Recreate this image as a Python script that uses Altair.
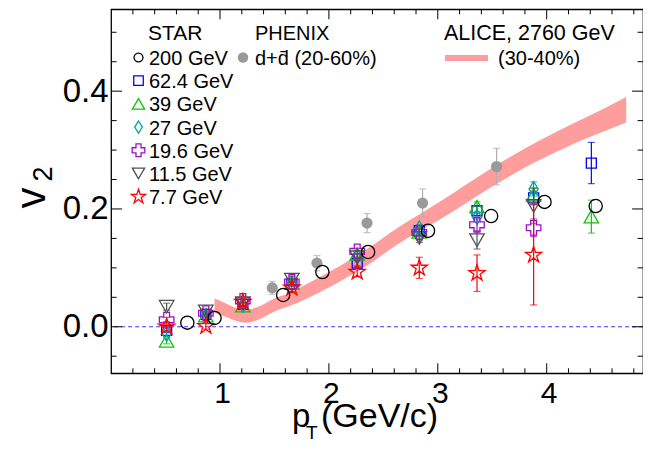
import altair as alt
import pandas as pd

FONT = "Liberation Sans"

# ---------------- data ----------------
# ALICE 2760 GeV (30-40%) band
alice_pt = [0.95, 1.05, 1.15, 1.25, 1.35, 1.5, 1.65, 1.8, 1.95, 2.1, 2.25, 2.4, 2.55,
            2.7, 2.85, 3.0, 3.15, 3.3, 3.5, 3.7, 3.9, 4.1, 4.3, 4.5, 4.73]
alice_lo = [0.024, 0.017, 0.010, 0.007, 0.012, 0.026, 0.036, 0.048, 0.062, 0.077, 0.093,
            0.110, 0.130, 0.148, 0.165, 0.180, 0.197, 0.215, 0.238, 0.260, 0.280, 0.298,
            0.315, 0.330, 0.347]
alice_hi = [0.048, 0.040, 0.032, 0.029, 0.034, 0.048, 0.058, 0.073, 0.088, 0.103, 0.120,
            0.138, 0.158, 0.176, 0.193, 0.210, 0.228, 0.246, 0.270, 0.292, 0.313, 0.332,
            0.350, 0.368, 0.390]

# PHENIX d+dbar (20-60%)
phenix_pt = [1.48, 1.89, 2.35, 2.86, 3.54]
phenix_v2 = [0.066, 0.108, 0.176, 0.210, 0.272]
phenix_err = [0.011, 0.013, 0.016, 0.024, 0.031]

# STAR 200 GeV
s200_pt = [0.70, 0.95, 1.58, 1.94, 2.36, 2.91, 3.49, 3.98, 4.45]
s200_v2 = [0.007, 0.015, 0.054, 0.093, 0.127, 0.163, 0.188, 0.212, 0.205]

# STAR BES energies (common pT bins)
star_pt = [0.51, 0.87, 1.21, 1.66, 2.26, 2.83, 3.36, 3.88, 4.41]
v2_624 = [-0.006, 0.021, 0.038, 0.073, 0.108, 0.163, 0.197, 0.219, 0.278]
err_624 = [0.004, 0.003, 0.003, 0.004, 0.005, 0.006, 0.008, 0.011, 0.035]
v2_39 = [-0.024, 0.019, 0.036, 0.074, 0.124, 0.161, 0.204, 0.224, 0.187]
err_39 = [0.005, 0.003, 0.003, 0.004, 0.005, 0.006, 0.008, 0.012, 0.028]
v2_27 = [-0.012, 0.018, 0.037, 0.073, 0.119, 0.167, 0.186, 0.234]
err_27 = [0.004, 0.003, 0.003, 0.004, 0.005, 0.006, 0.008, 0.012]
v2_196 = [0.012, 0.023, 0.044, 0.076, 0.128, 0.160, 0.173, 0.168]
err_196 = [0.004, 0.003, 0.003, 0.004, 0.005, 0.006, 0.010, 0.015]
v2_115 = [0.034, 0.026, 0.040, 0.080, 0.118, 0.151, 0.147, 0.205]
err_115 = [0.006, 0.004, 0.004, 0.005, 0.006, 0.008, 0.015, 0.030]
v2_77 = [0.000, 0.001, 0.042, 0.066, 0.093, 0.100, 0.091, 0.122]
err_77 = [0.008, 0.005, 0.005, 0.006, 0.008, 0.018, 0.031, 0.085]

labels = ["200 GeV", "62.4 GeV", "39 GeV", "27 GeV", "19.6 GeV", "11.5 GeV", "7.7 GeV"]

x_major = [1, 2, 3, 4]
x_minor = [0.2, 0.4, 0.6, 0.8, 1.2, 1.4, 1.6, 1.8, 2.2, 2.4, 2.6, 2.8, 3.2, 3.4, 3.6,
           3.8, 4.2, 4.4, 4.6, 4.8]
y_major = [0.0, 0.2, 0.4]
y_minor = [-0.05, 0.05, 0.1, 0.15, 0.25, 0.3, 0.35, 0.45, 0.5]

# ---------------- styling ----------------
OX, OY = 111.1, 9.3
W, H = 532, 364
PINK = "#ff9c9c"
DIAMOND = "M0,-1L0.62,0L0,1L-0.62,0Z"
STAR = ("M0,-1L0.225,-0.309L0.951,-0.309L0.363,0.118L0.588,0.809L0,0.382"
        "L-0.588,0.809L-0.363,0.118L-0.951,-0.309L-0.225,-0.309Z")

xs = alt.Scale(domain=[0, W / 108.9], nice=False, zero=False)
ys = alt.Scale(domain=[-0.079, 0.539], nice=False, zero=False)
xaxis = alt.Axis(values=x_major, format="d", labelFontSize=30, labelFont=FONT,
                 labelPadding=5, labelOffset=2, ticks=False, domain=False, grid=False,
                 title="", labelColor="black")
yaxis = alt.Axis(values=y_major, format=".1f", labelFontSize=33, labelFont=FONT,
                 labelPadding=3, ticks=False, domain=False, grid=False, title="",
                 labelColor="black")


def X(f):
    return alt.X(f"{f}:Q", scale=xs, axis=xaxis)


def Y(f):
    return alt.Y(f"{f}:Q", scale=ys, axis=yaxis)


ONE = pd.DataFrame({"k": [0]})
layers = []

# ALICE band
df_alice = pd.DataFrame({"pt": alice_pt, "lo": alice_lo, "hi": alice_hi})
layers.append(alt.Chart(df_alice).mark_area(color=PINK, opacity=1, interpolate="monotone")
              .encode(x=X("pt"), y=Y("lo"), y2="hi:Q"))

# zero line
layers.append(alt.Chart(pd.DataFrame({"v2": [0.0]}))
              .mark_rule(color="#3a3aff", strokeWidth=1.2, strokeDash=[4, 3])
              .encode(y=Y("v2")))

# inward ticks
dxM = pd.DataFrame({"t": x_major})
dxm = pd.DataFrame({"t": x_minor})
dyM = pd.DataFrame({"t": y_major})
dym = pd.DataFrame({"t": y_minor})
for d, L in [(dxM, 10), (dxm, 5)]:
    layers.append(alt.Chart(d).mark_rule(color="black", strokeWidth=1)
                  .encode(x=X("t"), y=alt.value(H), y2=alt.value(H - L)))
    layers.append(alt.Chart(d).mark_rule(color="black", strokeWidth=1)
                  .encode(x=X("t"), y=alt.value(0), y2=alt.value(L)))
for d, L in [(dyM, 11), (dym, 5.5)]:
    layers.append(alt.Chart(d).mark_rule(color="black", strokeWidth=1)
                  .encode(y=Y("t"), x=alt.value(0), x2=alt.value(L)))
    layers.append(alt.Chart(d).mark_rule(color="black", strokeWidth=1)
                  .encode(y=Y("t"), x=alt.value(W), x2=alt.value(W - L)))


def series(pts, vals, errs, color, shape, size, filled=False, barcolor=None):
    out = []
    bc = barcolor or color
    if errs is not None:
        df = pd.DataFrame({"pt": pts, "v2": vals,
                           "lo": [v - e for v, e in zip(vals, errs)],
                           "hi": [v + e for v, e in zip(vals, errs)]})
        out.append(alt.Chart(df).mark_rule(color=bc, strokeWidth=1.2)
                   .encode(x=X("pt"), y=Y("lo"), y2="hi:Q"))
        caps = pd.DataFrame({"pt": list(pts) * 2,
                             "c": list(df["lo"]) + list(df["hi"])})
        out.append(alt.Chart(caps).mark_tick(color=bc, orient="horizontal", size=7,
                                             thickness=1.2)
                   .encode(x=X("pt"), y=Y("c")))
    df2 = pd.DataFrame({"pt": pts, "v2": vals})
    if filled:
        m = alt.Chart(df2).mark_point(shape=shape, size=size, filled=True, color=color,
                                      opacity=1)
    else:
        m = alt.Chart(df2).mark_point(shape=shape, size=size, filled=False, color=color,
                                      strokeWidth=1.3, opacity=1)
    out.append(m.encode(x=X("pt"), y=Y("v2")))
    return out


styles = [
    ("#000000", "circle", 175, 80),
    ("#0000ff", "square", 100, 90),
    ("#11c011", "triangle-up", 210, 150),
    ("#00a3a3", DIAMOND, 220, 150),
    ("#a010c0", "cross", 210, 160),
    ("#505050", "triangle-down", 210, 150),
    ("#ff0000", STAR, 290, 220),
]

# PHENIX
layers += series(phenix_pt, phenix_v2, phenix_err, "#9a9a9a", "circle", 125, filled=True,
                 barcolor="#b0b0b0")
# STAR BES
bes = [(star_pt, v2_624, err_624), (star_pt, v2_39, err_39), (star_pt[:8], v2_27, err_27),
       (star_pt[:8], v2_196, err_196), (star_pt[:8], v2_115, err_115),
       (star_pt[:8], v2_77, err_77)]
for (p, v, e), st in zip(bes, styles[1:]):
    layers += series(p, v, e, st[0], st[1], st[2])
# STAR 200 GeV
layers += series(s200_pt, s200_v2, None, styles[0][0], styles[0][1], styles[0][2])

# ---------------- text & legend ----------------


def txt(s, x, y, size=20, align="left", angle=0, baseline="alphabetic"):
    return (alt.Chart(ONE)
            .mark_text(text=s, align=align, baseline=baseline, fontSize=size, font=FONT,
                       color="black", angle=angle)
            .encode(x=alt.value(x - OX), y=alt.value(y - OY)))


def sym(shape, color, size, x, y, filled=False):
    if filled:
        mk = alt.Chart(ONE).mark_point(shape=shape, size=size, filled=True, color=color,
                                       opacity=1)
    else:
        mk = alt.Chart(ONE).mark_point(shape=shape, size=size, filled=False, color=color,
                                       strokeWidth=1.3, opacity=1)
    return mk.encode(x=alt.value(x - OX), y=alt.value(y - OY))


layers.append(txt("STAR", 148, 40, size=21))
layers.append(txt("PHENIX", 255, 40, size=20))
layers.append(txt("ALICE, 2760 GeV", 444, 40, size=21.5))
for i, (lab, st) in enumerate(zip(labels, styles)):
    base = 65 + 23.2 * i
    layers.append(sym(st[1], st[0], st[3], 138.5, base - 7.5))
    layers.append(txt(lab, 149, base, size=20))
layers.append(sym("circle", "#9a9a9a", 110, 243, 57.5, filled=True))
layers.append(txt("d+d\u0304 (20-60%)", 255, 65, size=20))
layers.append(alt.Chart(ONE).mark_rule(color=PINK, strokeWidth=6)
              .encode(x=alt.value(445 - OX), x2=alt.value(488 - OX), y=alt.value(58 - OY)))
layers.append(txt("(30-40%)", 498, 65, size=20))

# axis titles
layers.append(txt("p", 292, 427, size=33))
layers.append(txt("T", 306, 439, size=19))
layers.append(txt("(GeV/c)", 321, 427, size=34))
layers.append(txt("v", 32, 198, size=42, align="center", angle=270, baseline="middle"))
layers.append(txt("2", 44, 174, size=27, align="center", angle=270, baseline="middle"))

chart = (alt.layer(*layers)
         .properties(width=W, height=H, autosize="none",
                     padding={"left": OX - 8, "top": OY - 8, "right": 0, "bottom": 66})
         .configure_view(stroke="black", strokeWidth=1.3))

chart.save("out.html", embed_options={"renderer": "svg", "actions": False})
